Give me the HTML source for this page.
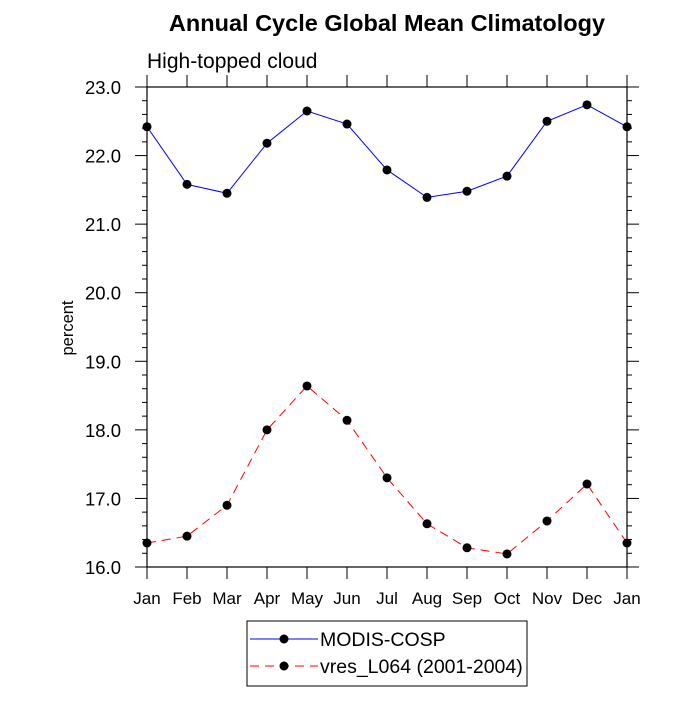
<!DOCTYPE html>
<html><head><meta charset="utf-8"><style>
body{margin:0;background:#fff}
svg{font-family:"Liberation Sans",sans-serif}
</style></head><body>
<svg id="chart" width="700" height="700">
<text x="387" y="31" text-anchor="middle" font-size="23.5" font-weight="bold">Annual Cycle Global Mean Climatology</text>
<text x="147" y="68" font-size="21">High-topped cloud</text>
<text transform="translate(73,328) rotate(-90)" text-anchor="middle" font-size="16.5">percent</text>
<g id="axes"></g>
<g id="series"></g>
<rect x="247" y="621" width="280" height="65" fill="none" stroke="#000" stroke-width="1"/>
<g>
<line x1="250" y1="639" x2="318" y2="639" stroke="#00f" stroke-width="1"/>
<circle cx="284" cy="639" r="4.5" fill="#000"/>
<text x="320" y="646" font-size="19.5">MODIS-COSP</text>
</g>
<g>
<line x1="250" y1="666" x2="318" y2="666" stroke="#f00" stroke-width="1" stroke-dasharray="9,6"/>
<circle cx="284" cy="666" r="4.5" fill="#000"/>
<text x="320" y="673" font-size="19.5">vres_L064 (2001-2004)</text>
</g>
</svg>
<script>
const months=["Jan","Feb","Mar","Apr","May","Jun","Jul","Aug","Sep","Oct","Nov","Dec","Jan"];
const modis=[22.42,21.58,21.45,22.18,22.65,22.46,21.79,21.39,21.48,21.70,22.50,22.74,22.42];
const model=[16.35,16.45,16.90,18.00,18.64,18.14,17.30,16.63,16.28,16.19,16.67,17.21,16.35];
const yTicks=["16.0","17.0","18.0","19.0","20.0","21.0","22.0","23.0"];
const NS="http://www.w3.org/2000/svg";
const L=147,R=627,T=87,B=567,ymin=16,ymax=23;
const xs=i=>L+(R-L)*i/(months.length-1);
const ys=v=>B-(v-ymin)/(ymax-ymin)*(B-T);
function mk(tag,at,parent){const e=document.createElementNS(NS,tag);for(const k in at)e.setAttribute(k,at[k]);parent.appendChild(e);return e;}
const ax=document.getElementById('axes');
const frame=mk('rect',{x:L,y:T,width:R-L,height:B-T,fill:'none',stroke:'#000','stroke-width':1.2},ax);


months.forEach((m,i)=>{
 const x=xs(i);
 mk('line',{x1:x,y1:B,x2:x,y2:B+12,stroke:'#000'},ax);
 mk('line',{x1:x,y1:T,x2:x,y2:T-12,stroke:'#000'},ax);
 const t=mk('text',{x:x,y:B+37,'text-anchor':'middle','font-size':17},ax);
 t.textContent=m;
 
 
});
for(let v=ymin;v<=ymax+1e-6;v+=0.2){
 const y=ys(v);const major=Math.abs(v-Math.round(v))<1e-6;const len=major?12:5;
 mk('line',{x1:L,y1:y,x2:L-len,y2:y,stroke:'#000'},ax);
 mk('line',{x1:R,y1:y,x2:R+len,y2:y,stroke:'#000'},ax);
}
yTicks.forEach(s=>{
 const t=mk('text',{x:L-26,y:ys(parseFloat(s))+7,'text-anchor':'end','font-size':18.5},ax);
 t.textContent=s;
 
 
});
const sg=document.getElementById('series');
function draw(vals,color,dash,name){
 const p=mk('polyline',{points:vals.map((v,i)=>xs(i)+','+ys(v)).join(' '),fill:'none',stroke:color,'stroke-width':1,'stroke-dasharray':dash},sg);
 
 
 vals.forEach((v,i)=>{
  const c=mk('circle',{cx:xs(i),cy:ys(v),r:4.5,fill:'#000'},sg);
  
  
 });
}
draw(modis,'#00f','none','modis');
draw(model,'#f00','9,6','model');
</script>
</body></html>
